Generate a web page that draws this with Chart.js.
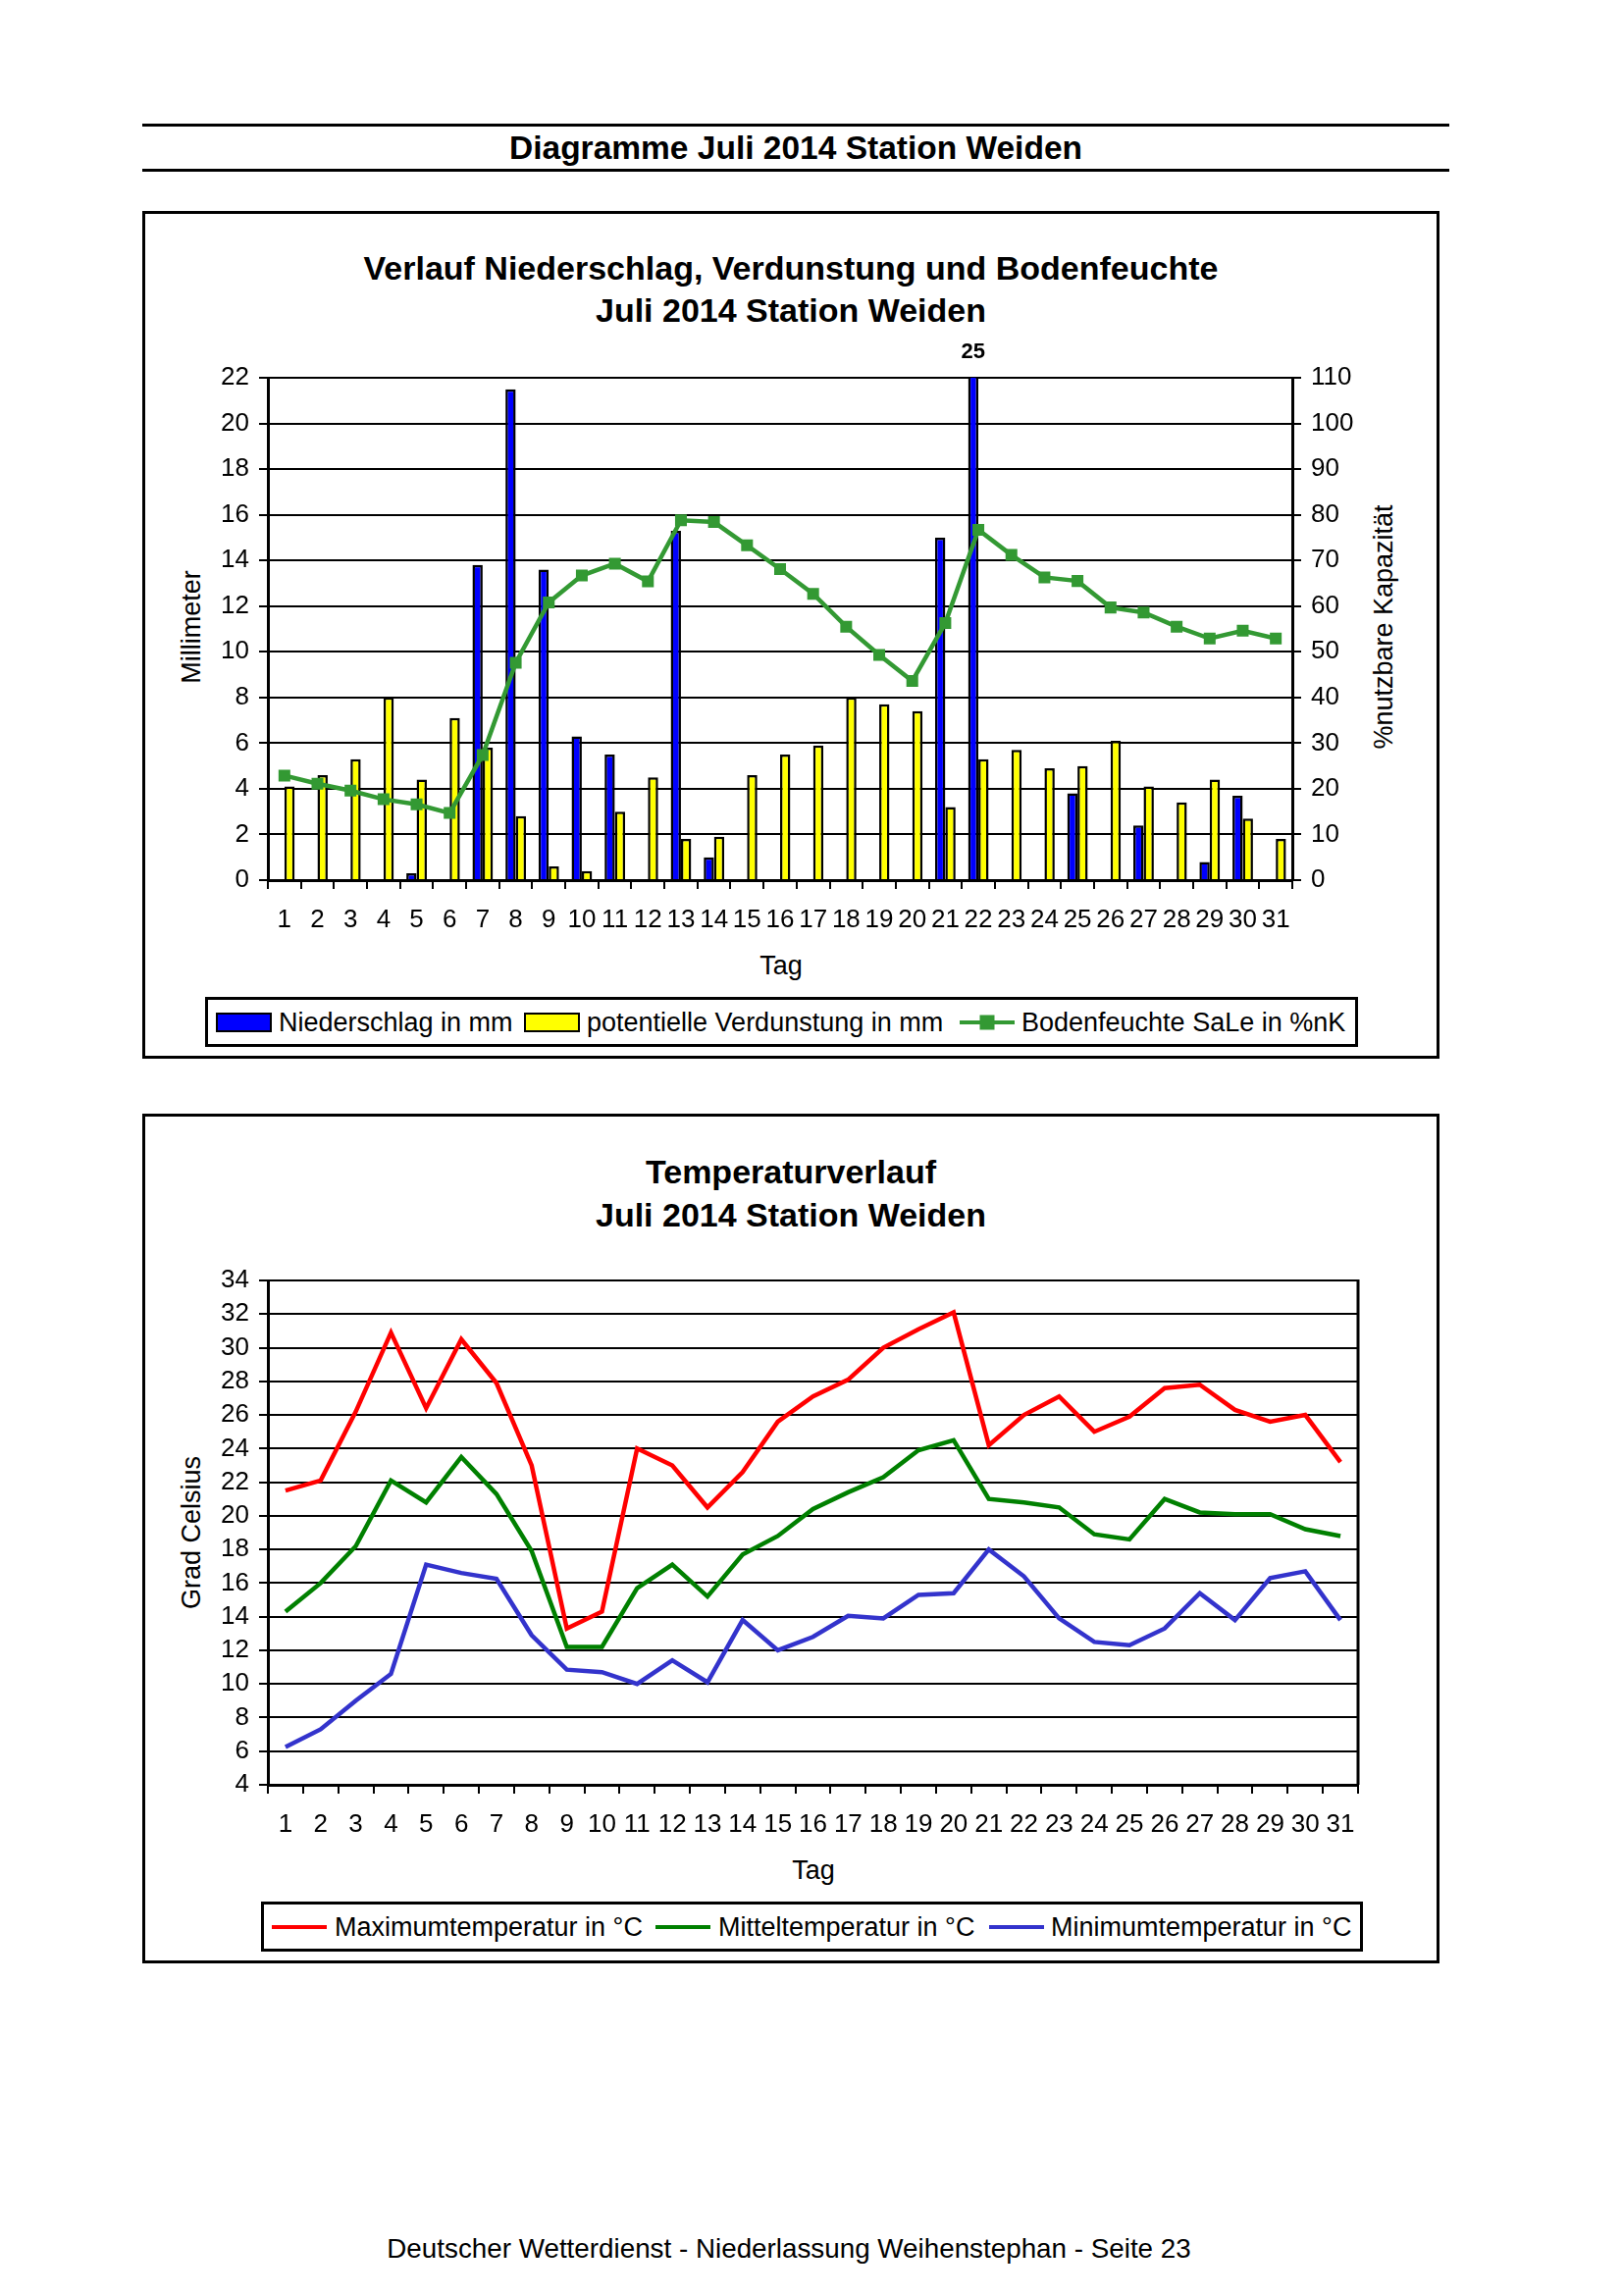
<!DOCTYPE html>
<html>
<head>
<meta charset="utf-8">
<script src="https://cdn.jsdelivr.net/npm/chart.js@4.4.1/dist/chart.umd.min.js"></script>
<style>
  body { margin: 0; width: 1653px; height: 2340px; background: #fff; position: relative; overflow: hidden;
         font-family: 'Liberation Sans', Arial, sans-serif; color: #000; }
  .rule { position: absolute; left: 145px; width: 1332px; height: 3px; background: #000; }
  .frame { position: absolute; border: 3px solid #000; box-sizing: border-box; }
  .t { position: absolute; white-space: nowrap; line-height: 1; transform: translate(-50%, -50%); }
  .bold { font-weight: bold; font-size: 33.5px; }
  .lab { font-size: 27px; }
  .rot { transform: translate(-50%, -50%) rotate(-90deg); }
  canvas { position: absolute; }
  .leg { position: absolute; border: 3px solid #000; box-sizing: border-box; background: #fff; }
  .sw { position: absolute; top: 50%; height: 20px; width: 57px; transform: translateY(-50%); border: 2px solid #000; box-sizing: border-box; }
  .ln { position: absolute; top: 50%; height: 4px; width: 56px; transform: translateY(-50%); }
  .mk { position: absolute; top: 50%; width: 15px; height: 15px; transform: translate(-50%, -50%); }
  .lt { position: absolute; top: 50%; font-size: 27px; line-height: 1; white-space: nowrap; transform: translateY(-50%); }
</style>
</head>
<body>

<div class="rule" style="top:126px"></div>
<div class="t bold" style="left:811px; top:151px">Diagramme Juli 2014 Station Weiden</div>
<div class="rule" style="top:172px"></div>

<!-- Diagramm 1 -->
<div class="frame" style="left:145px; top:215px; width:1322px; height:864px"></div>
<div class="t bold" style="left:806px; top:273px; font-size:34px">Verlauf Niederschlag, Verdunstung und Bodenfeuchte</div>
<div class="t bold" style="left:806px; top:316px; font-size:34px">Juli 2014 Station Weiden</div>
<div class="t lab rot" style="left:195px; top:639px">Millimeter</div>
<div class="t lab rot" style="left:1410px; top:639px">%nutzbare Kapazität</div>
<div class="t lab" style="left:796px; top:984px">Tag</div>
<canvas id="c1" width="1322" height="864" style="left:145px; top:215px"></canvas>
<div class="leg" style="left:209px; top:1016px; width:1175px; height:51px">
  <div class="sw" style="left:8px; background:#0000ff"></div>
  <div class="lt" style="left:72px">Niederschlag in mm</div>
  <div class="sw" style="left:322px; background:#ffff00"></div>
  <div class="lt" style="left:386px">potentielle Verdunstung in mm</div>
  <div class="ln" style="left:766px; background:#339933"></div>
  <div class="mk" style="left:794px; background:#339933"></div>
  <div class="lt" style="left:829px">Bodenfeuchte SaLe in %nK</div>
</div>

<!-- Diagramm 2 -->
<div class="frame" style="left:145px; top:1135px; width:1322px; height:866px"></div>
<div class="t bold" style="left:806px; top:1194px; font-size:34px">Temperaturverlauf</div>
<div class="t bold" style="left:806px; top:1238px; font-size:34px">Juli 2014 Station Weiden</div>
<div class="t lab rot" style="left:195px; top:1562px">Grad Celsius</div>
<div class="t lab" style="left:829px; top:1906px">Tag</div>
<canvas id="c2" width="1322" height="866" style="left:145px; top:1135px"></canvas>
<div class="leg" style="left:266px; top:1938px; width:1123px; height:51px">
  <div class="ln" style="left:8px; background:#ff0000"></div>
  <div class="lt" style="left:72px">Maximumtemperatur in °C</div>
  <div class="ln" style="left:399px; background:#008000"></div>
  <div class="lt" style="left:463px">Mitteltemperatur in °C</div>
  <div class="ln" style="left:739px; background:#3333cc"></div>
  <div class="lt" style="left:802px">Minimumtemperatur in °C</div>
</div>

<div class="t" style="left:804px; top:2292px; font-size:27.8px">Deutscher Wetterdienst - Niederlassung Weihenstephan - Seite 23</div>

<script>
  // ── Daten ────────────────────────────────────────────────
  const tage = ['1','2','3','4','5','6','7','8','9','10','11','12','13','14','15','16',
                '17','18','19','20','21','22','23','24','25','26','27','28','29','30','31'];

  const niederschlag = [0, 0, 0, 0, 0.3, 0, 13.8, 21.5, 13.6, 6.3, 5.5, 0, 15.3, 1.0, 0, 0,
                        0, 0, 0, 0, 15.0, 25, 0, 0, 3.8, 0, 2.4, 0, 0.8, 3.7, 0];
  const verdunstung = [4.1, 4.6, 5.3, 8.0, 4.4, 7.1, 5.8, 2.8, 0.6, 0.4, 3.0, 4.5, 1.8, 1.9, 4.6, 5.5,
                       5.9, 8.0, 7.7, 7.4, 3.2, 5.3, 5.7, 4.9, 5.0, 6.1, 4.1, 3.4, 4.4, 2.7, 1.8];
  const bodenfeuchte = [22.9, 21.1, 19.6, 17.7, 16.6, 14.7, 27.4, 47.6, 60.8, 66.7, 69.3, 65.4, 78.8, 78.4, 73.3, 68.1,
                        62.7, 55.5, 49.3, 43.6, 56.3, 76.7, 71.2, 66.3, 65.5, 59.7, 58.6, 55.5, 52.9, 54.6, 52.9];

  const tMax = [21.5, 22.1, 26.2, 30.9, 26.4, 30.5, 27.9, 23.0, 13.3, 14.3, 24.0, 23.0, 20.5, 22.6, 25.6, 27.1,
                28.1, 30.0, 31.1, 32.1, 24.2, 26.0, 27.1, 25.0, 25.9, 27.6, 27.8, 26.3, 25.6, 26.0, 23.2];
  const tMittel = [14.3, 16.0, 18.2, 22.1, 20.8, 23.5, 21.3, 17.9, 12.2, 12.2, 15.7, 17.1, 15.2, 17.7, 18.8, 20.4,
                   21.4, 22.3, 23.9, 24.5, 21.0, 20.8, 20.5, 18.9, 18.6, 21.0, 20.2, 20.1, 20.1, 19.2, 18.8];
  const tMin = [6.25, 7.3, 9.0, 10.6, 17.1, 16.6, 16.25, 12.9, 10.85, 10.7, 10.0, 11.4, 10.1, 13.8, 12.0, 12.8,
                14.05, 13.9, 15.3, 15.4, 18.0, 16.4, 13.9, 12.5, 12.3, 13.3, 15.4, 13.8, 16.3, 16.7, 13.8];

  // ── Gemeinsames ──────────────────────────────────────────
  Chart.defaults.font.family = "'Liberation Sans', Arial, sans-serif";
  Chart.defaults.color = '#000';
  const tickFont = { size: 26 };

  function xAxis(h) {
    return {
      type: 'category', offset: true, z: 1,
      grid: { display: true, offset: true, drawOnChartArea: false, drawTicks: true, tickLength: 9, color: '#000', lineWidth: 2 },
      border: { display: true, color: '#000', width: 3 },
      ticks: { color: '#000', font: tickFont, padding: 16, autoSkip: false, maxRotation: 0, minRotation: 0 },
      afterFit: s => { s.height = h; }
    };
  }

  function yAxis(pos, min, max, step, w, gridOn) {
    return {
      position: pos, min: min, max: max,
      grid: { drawOnChartArea: gridOn, drawTicks: true, tickLength: 9, color: '#000', lineWidth: 2 },
      border: { display: true, color: '#000', width: 3 },
      ticks: { stepSize: step, color: '#000', font: tickFont, padding: 10 },
      afterFit: s => { s.width = w; }
    };
  }

  // Wert über dem Achsenmaximum (Tag 22) als Zahl über den Balken schreiben
  const ueberlauf = {
    id: 'ueberlauf',
    afterDatasetsDraw(c) {
      const y = c.scales.y, meta = c.getDatasetMeta(0), ctx = c.ctx;
      ctx.save();
      ctx.font = "bold 22px 'Liberation Sans', Arial, sans-serif";
      ctx.fillStyle = '#000'; ctx.textAlign = 'center'; ctx.textBaseline = 'middle';
      niederschlag.forEach((v, i) => {
        if (v > y.max) ctx.fillText(String(v), meta.data[i].x, c.chartArea.top - 26);
      });
      ctx.restore();
    }
  };

  // rechte Kante der Zeichenfläche
  const rahmen = {
    id: 'rahmen',
    afterDraw(c) {
      const a = c.chartArea, ctx = c.ctx;
      ctx.save(); ctx.strokeStyle = '#000'; ctx.lineWidth = 3;
      ctx.beginPath(); ctx.moveTo(a.right, a.top - 1); ctx.lineTo(a.right, a.bottom); ctx.stroke();
      ctx.restore();
    }
  };

  // ── Niederschlag / Verdunstung / Bodenfeuchte ────────────
  new Chart(document.getElementById('c1'), {
    type: 'bar',
    data: {
      labels: tage,
      datasets: [
        { label: 'Niederschlag in mm', data: niederschlag, yAxisID: 'y', order: 1, clip: 0,
          backgroundColor: '#0000ff', borderColor: '#000', borderWidth: 2.5 },
        { label: 'potentielle Verdunstung in mm', data: verdunstung, yAxisID: 'y', order: 1,
          backgroundColor: '#ffff00', borderColor: '#000', borderWidth: 2.5 },
        { type: 'line', label: 'Bodenfeuchte SaLe in %nK', data: bodenfeuchte, yAxisID: 'y1', order: 0,
          borderColor: '#339933', backgroundColor: '#339933', borderWidth: 4.5, tension: 0,
          pointStyle: 'rect', pointRadius: 8.5, pointBorderWidth: 0 }
      ]
    },
    options: {
      responsive: false, animation: false, devicePixelRatio: 1,
      categoryPercentage: 0.62, barPercentage: 1.0,
      layout: { padding: { top: 170, left: 0, right: 0, bottom: 0 } },
      plugins: { legend: { display: false }, tooltip: { enabled: false }, title: { display: false } },
      scales: {
        x: xAxis(182),
        y: yAxis('left', 0, 22, 2, 128, true),
        y1: yAxis('right', 0, 110, 10, 150, false)
      }
    },
    plugins: [ueberlauf]
  });

  // ── Temperaturverlauf ────────────────────────────────────
  const linie = (label, data, color) => ({
    label, data, borderColor: color, backgroundColor: color, borderWidth: 4.5,
    pointRadius: 0, tension: 0
  });

  new Chart(document.getElementById('c2'), {
    type: 'line',
    data: {
      labels: tage,
      datasets: [
        linie('Maximumtemperatur in °C', tMax, '#ff0000'),
        linie('Mitteltemperatur in °C', tMittel, '#008000'),
        linie('Minimumtemperatur in °C', tMin, '#3333cc')
      ]
    },
    options: {
      responsive: false, animation: false, devicePixelRatio: 1,
      layout: { padding: { top: 170, left: 0, right: 83, bottom: 0 } },
      plugins: { legend: { display: false }, tooltip: { enabled: false }, title: { display: false } },
      scales: {
        x: xAxis(182),
        y: yAxis('left', 4, 34, 2, 128, true)
      }
    },
    plugins: [rahmen]
  });
</script>
</body>
</html>
